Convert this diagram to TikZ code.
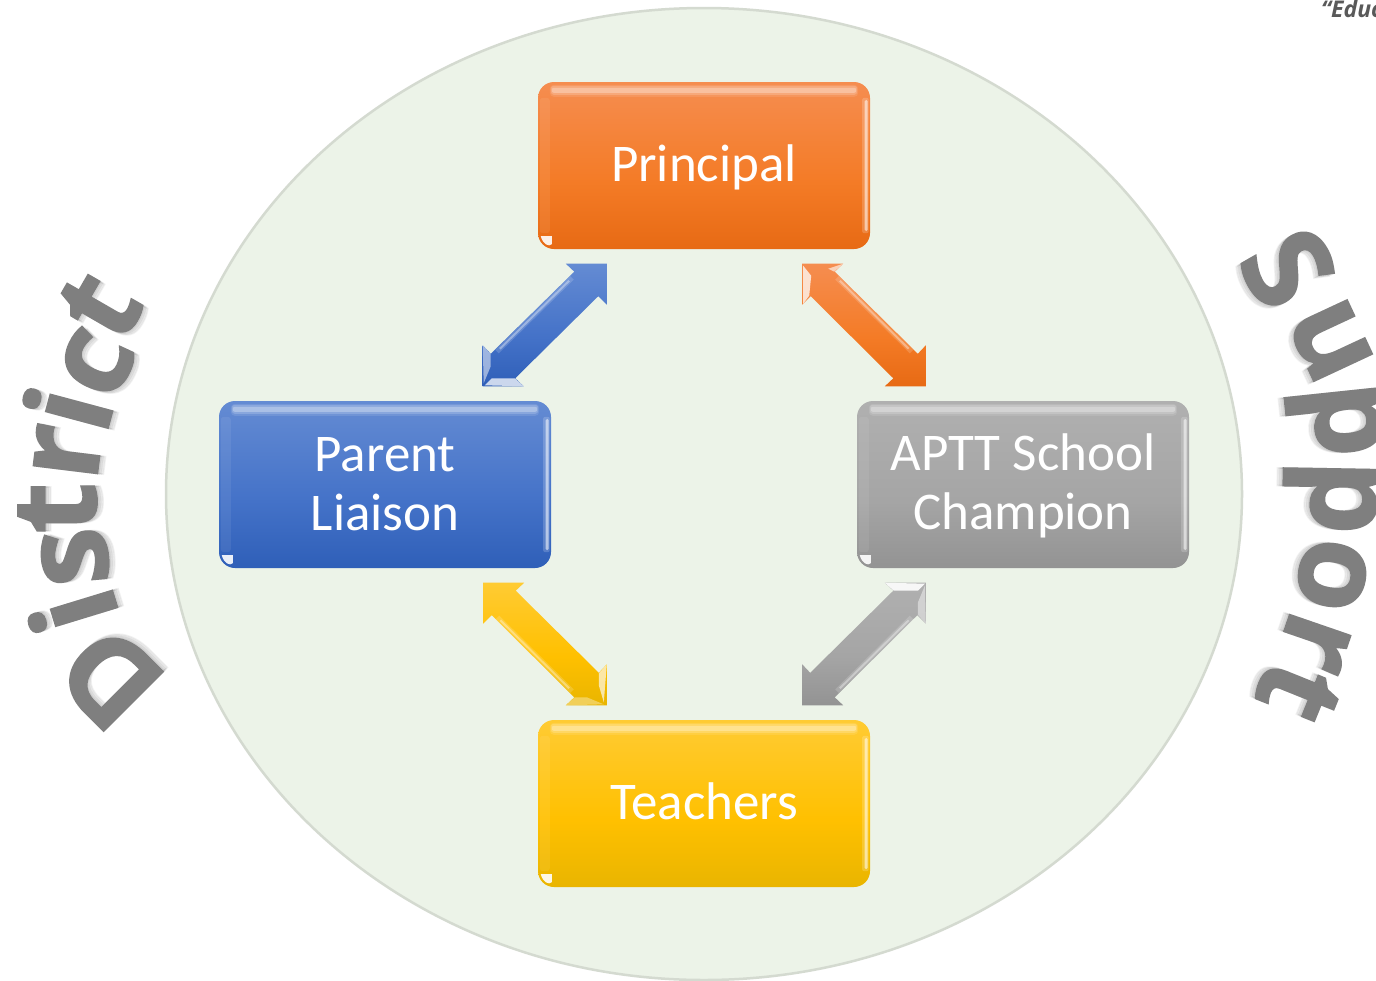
\documentclass[tikz,border=0pt]{standalone}
\usepackage{fontspec}
\usetikzlibrary{calc}
\setmainfont{Carlito}
\newfontfamily\arcfont{Open Sans}[BoldFeatures={FakeBold=1.4}]
\newfontfamily\mottofont{Open Sans}
\definecolor{disc}{HTML}{ECF3E8}
\definecolor{discline}{HTML}{D4DAD0}
\definecolor{lettergray}{HTML}{7F7F7F}
\definecolor{OA}{HTML}{F58D50}\definecolor{OB}{HTML}{F47B26}\definecolor{OC}{HTML}{E76A14}
\definecolor{BA}{HTML}{648BD3}\definecolor{BB}{HTML}{4472C8}\definecolor{BC}{HTML}{2F5FB8}
\definecolor{GA}{HTML}{B0B0B0}\definecolor{GB}{HTML}{A5A5A5}\definecolor{GC}{HTML}{939393}
\definecolor{YA}{HTML}{FFCB33}\definecolor{YB}{HTML}{FFC000}\definecolor{YC}{HTML}{E9B500}
\pgfdeclareverticalshading{orangeramp}{100bp}{color(0bp)=(OC); color(25bp)=(OC); color(45bp)=(OB); color(75bp)=(OA); color(100bp)=(OA)}
\pgfdeclareverticalshading{blueramp}{100bp}{color(0bp)=(BC); color(25bp)=(BC); color(45bp)=(BB); color(75bp)=(BA); color(100bp)=(BA)}
\pgfdeclareverticalshading{grayramp}{100bp}{color(0bp)=(GC); color(25bp)=(GC); color(45bp)=(GB); color(75bp)=(GA); color(100bp)=(GA)}
\pgfdeclareverticalshading{yellowramp}{100bp}{color(0bp)=(YC); color(25bp)=(YC); color(45bp)=(YB); color(75bp)=(YA); color(100bp)=(YA)}
\tikzset{
  plate/.style={rounded corners=16pt,minimum width=332pt,minimum height=167pt,inner sep=0pt,
    text=white,align=center,font=\fontsize{53}{59}\selectfont},
  oneline/.style={text height=31pt,text depth=0pt},
  orangefill/.style={shading=orangeramp},
  bluefill/.style={shading=blueramp},
  grayfill/.style={shading=grayramp},
  yellowfill/.style={shading=yellowramp},
  bevel/.style={fill=white,fill opacity=#1},
  bevel/.default=0.65,
  arcletter/.style={inner sep=0pt,text=lettergray,font=\arcfont\bfseries\fontsize{118}{118}\selectfont},
  arcshadow/.style={inner sep=0pt,text=black,text opacity=0.05,font=\arcfont\bfseries\fontsize{118}{118}\selectfont}
}
% gloss on a plate
\newcommand{\plategloss}[1]{%
  \fill[white,opacity=.10,rounded corners=4pt] ($(#1.north west)+(12,3)$) rectangle ($(#1.north east)+(-12,15)$);
  \fill[white,opacity=.18,rounded corners=3pt] ($(#1.north west)+(13,4)$) rectangle ($(#1.north east)+(-13,13)$);
  \fill[white,opacity=.28,rounded corners=2pt] ($(#1.north west)+(14,6)$) rectangle ($(#1.north east)+(-14,11)$);
  \fill[white,opacity=.18,rounded corners=2pt] ($(#1.north east)+(-8,16)$) rectangle ($(#1.south east)+(-1.5,-16)$);
  \fill[white,opacity=.55,rounded corners=1.5pt] ($(#1.north east)+(-5.5,18)$) rectangle ($(#1.south east)+(-2.5,-18)$);
  \fill[white,opacity=.07,rounded corners=3pt] ($(#1.north west)+(2,16)$) rectangle ($(#1.south west)+(12,-16)$);
  \fill[white,opacity=.9] ($(#1.south west)+(3,-13)$) -- ($(#1.south west)+(14,-13)$) -- ($(#1.south west)+(14,-5)$) .. controls ($(#1.south west)+(11,-2)$) and ($(#1.south west)+(5,-5)$) .. cycle;
}
% block arrow from tip #1 to tip #2, x and y signs #3 #4, look #5
\newcommand{\blockarrow}[5]{%
  \path[#5] (#1) -- ($(#1)+(0,#4*41)$) -- ($(#1)+(#3*8.5,#4*32.5)$)
    -- ($(#2)+(-#3*32.5,-#4*8)$) -- ($(#2)+(-#3*41,0)$) -- (#2)
    -- ($(#2)+(0,-#4*41)$) -- ($(#2)+(-#3*8,-#4*32.5)$)
    -- ($(#1)+(#3*32.5,#4*8)$) -- ($(#1)+(#3*41,0)$) -- cycle;
}
% highlight along a shaft edge from #1 to #2, inward shift #3
\newcommand{\shaftshine}[3]{%
  \draw[white,opacity=.16,line width=5pt,shorten >=6pt,shorten <=6pt] ($(#1)+#3$) -- ($(#2)+#3$);
  \draw[white,opacity=.35,line width=2pt,shorten >=10pt,shorten <=10pt] ($(#1)+#3$) -- ($(#2)+#3$);
}
% letter on the arc with soft shadow towards its baseline
\newcommand{\arcglyph}[5]{%
  \foreach \k in {1,2,3}{
    \node[arcshadow,rotate=#4,name=#1s\k] at ({#2+\k*2*sin(#4)},{#3+\k*2*cos(#4)}) {#5};
  }
  \node[arcletter,rotate=#4] (#1) at (#2,#3) {#5};
}
\begin{document}
\begin{tikzpicture}[x=1pt,y=-1pt]
\useasboundingbox (0,0) rectangle (1376,980);
\clip (0,0) rectangle (1376,980);
\fill[white] (0,0) rectangle (1376,980);
\draw[fill=disc,draw=discline,line width=2.5pt] (704,494) ellipse [x radius=538,y radius=486];

\node[plate,oneline,orangefill] (principal) at (704,165.5) {Principal};
\node[plate,bluefill] (liaison) at (385,484.5) {Parent\\Liaison\rule[-2pt]{0pt}{2pt}};
\node[plate,grayfill] (champion) at (1023,484.5) {\rule{0pt}{40pt}APTT School\\Champion};
\node[plate,oneline,yellowfill] (teachers) at (704,803.5) {Teachers};
\plategloss{principal}\plategloss{liaison}\plategloss{champion}\plategloss{teachers}

\coordinate (blueA) at ($(principal.south west)+(69,14.5)$);
\coordinate (blueB) at ($(liaison.north east)+(-68.5,-14.5)$);
\coordinate (orangeA) at ($(principal.south east)+(-68,14.5)$);
\coordinate (orangeB) at ($(champion.north west)+(69,-14.5)$);
\coordinate (yellowA) at ($(liaison.south east)+(-68,14.5)$);
\coordinate (yellowB) at ($(teachers.north west)+(69,-14.5)$);
\coordinate (grayA) at ($(champion.south west)+(69,14.5)$);
\coordinate (grayB) at ($(teachers.north east)+(-68,-14.5)$);

\blockarrow{blueA}{blueB}{-1}{1}{bluefill}
\blockarrow{orangeA}{orangeB}{1}{1}{orangefill}
\blockarrow{yellowA}{yellowB}{1}{1}{yellowfill}
\blockarrow{grayA}{grayB}{-1}{1}{grayfill}

% blue bevels
\shaftshine{$(blueA)+(-32.5,8)$}{$(blueB)+(8,-32.5)$}{(2,2)}
\fill[bevel=.75] ($(blueB)+(41,0)$) -- ($(blueB)+(32,-8)$) -- ($(blueB)+(9,-8)$) -- ($(blueB)+(2,-1)$) -- cycle;
\fill[bevel=.5] ($(blueB)+(0,-41)$) -- ($(blueB)+(8,-32)$) -- ($(blueB)+(8,-20)$) -- ($(blueB)+(1,-3)$) -- cycle;
% orange bevels
\shaftshine{$(orangeA)+(32.5,8)$}{$(orangeB)+(-8,-32.5)$}{(-2,2)}
\fill[bevel=.75] ($(orangeA)+(1,2)$) -- ($(orangeA)+(9,12)$) -- ($(orangeA)+(7,32)$) -- ($(orangeA)+(1,40)$) -- cycle;
\fill[bevel=.6] ($(orangeA)+(41,0)$) -- ($(orangeA)+(32,8)$) -- ($(orangeA)+(26,5)$) -- cycle;
% yellow bevels
\shaftshine{$(yellowA)+(8,32.5)$}{$(yellowB)+(-32.5,-8)$}{(2,-2)}
\fill[bevel=.65] ($(yellowB)+(0,-41)$) -- ($(yellowB)+(-8,-32)$) -- ($(yellowB)+(-8,-20)$) -- ($(yellowB)+(-3,-3)$) -- cycle;
\fill[bevel=.35] ($(yellowB)+(-41,0)$) -- ($(yellowB)+(-32,-8)$) -- ($(yellowB)+(-20,-8)$) -- ($(yellowB)+(-3,-1)$) -- cycle;
% gray bevels
\shaftshine{$(grayA)+(-8,32.5)$}{$(grayB)+(32.5,-8)$}{(-2,-2)}
\fill[bevel=.9] ($(grayA)+(-41,0)$) -- ($(grayA)+(-32,8)$) -- ($(grayA)+(-8,8)$) -- ($(grayA)+(-1,1)$) -- cycle;
\fill[bevel=.45] ($(grayA)+(0,41)$) -- ($(grayA)+(-8,32)$) -- ($(grayA)+(-8,20)$) -- ($(grayA)+(-1,3)$) -- cycle;

% District
\arcglyph{dD}{110}{678}{135}{D}
\arcglyph{di}{72}{612}{107}{i}
\arcglyph{ds}{75}{557}{95}{s}
\arcglyph{dt}{57.5}{508}{90}{t}
\arcglyph{dr}{67}{452}{83}{r}
\arcglyph{dj}{67}{408}{75}{i}
\arcglyph{dc}{97}{363}{65}{c}
\arcglyph{dT}{100}{306}{60}{t}
% Support
\arcglyph{sS}{1288}{268}{-60}{S}
\arcglyph{su}{1330}{341}{-65}{u}
\arcglyph{sp}{1334}{421}{-84}{p}
\arcglyph{sq}{1330}{497}{-91}{p}
\arcglyph{so}{1332}{575}{-100}{o}
\arcglyph{sr}{1315}{642}{-109}{r}
\arcglyph{st}{1298}{692}{-112}{t}

\node[anchor=base west,inner sep=0pt,text=black!65,font=\mottofont\bfseries\itshape\fontsize{23}{23}\selectfont] (motto) at (1321,17) {“Educ};
\end{tikzpicture}
\end{document}
